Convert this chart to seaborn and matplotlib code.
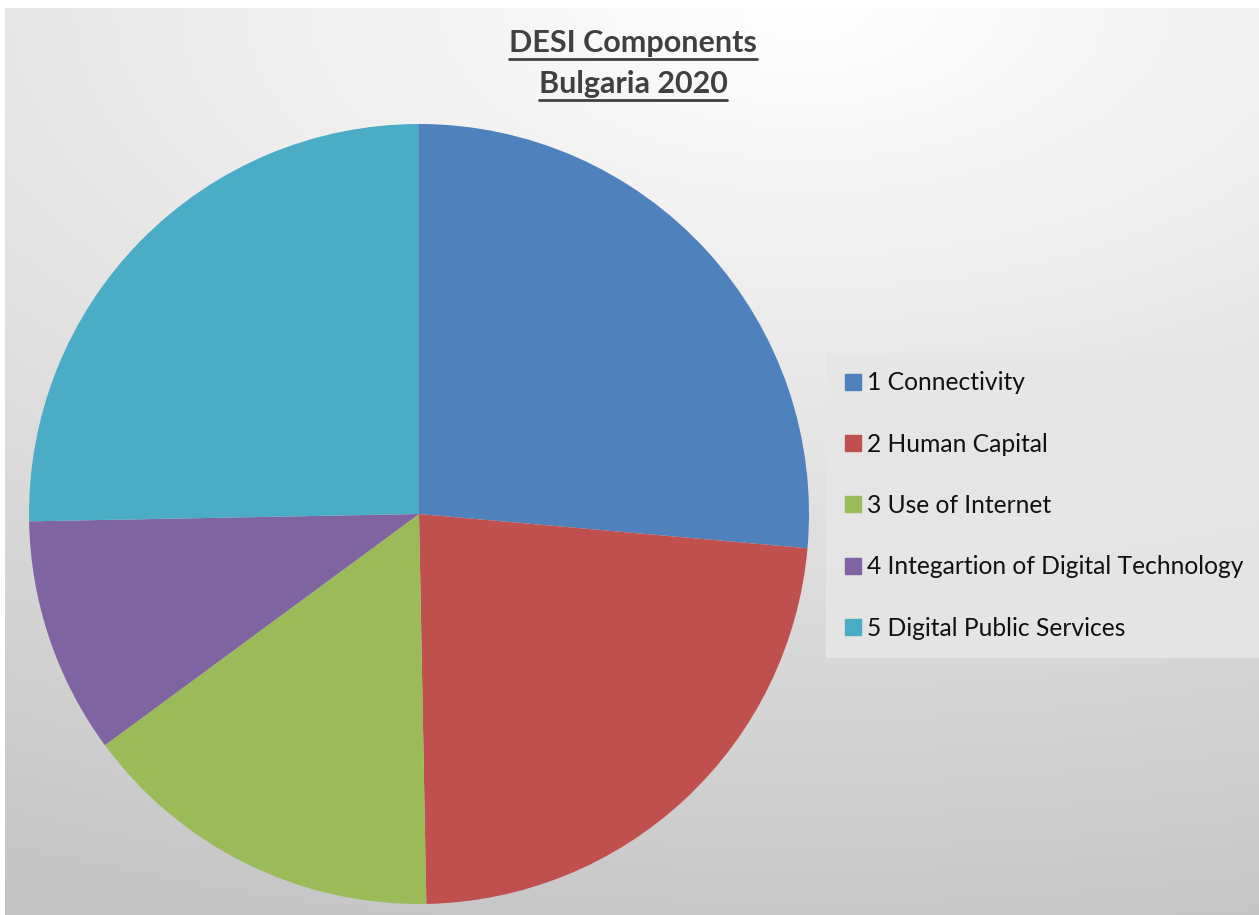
import numpy as np
import matplotlib
matplotlib.use("Agg")
import matplotlib.pyplot as plt
from matplotlib.lines import Line2D
from matplotlib.patches import Rectangle
import seaborn as sns

# ---- data ----
categories = ["1 Connectivity", "2 Human Capital", "3 Use of Internet",
              "4 Integartion of Digital Technology", "5 Digital Public Services"]
values = [26.4, 23.3, 15.2, 9.8, 25.3]
colors = ["#4F81BD", "#C0504D", "#9BBB59", "#8064A2", "#4BACC6"]
title_lines = ["DESI Components", "Bulgaria 2020"]

sns.set_theme(style="white")
plt.rcParams["font.family"] = ["Lato", "DejaVu Sans"]

W, H = 1259, 915
fig = plt.figure(figsize=(W / 100, H / 100), dpi=100)
fig.patch.set_facecolor("white")

# background gradient (chart area)
bg = fig.add_axes([5 / W, 0, (W - 5) / W, (H - 8) / H], zorder=0)
yy, xx = np.mgrid[0:H - 8, 0:W - 5]
d = np.sqrt(((xx - 800) / 1600.0) ** 2 + ((yy - 0) / 800.0) ** 2)
g = np.clip(1.0 - 0.19 * d, 0.74, 1.0)
img = np.dstack([g, g, g])
bg.imshow(img, aspect="auto", interpolation="bilinear")
bg.set_axis_off()

# pie
cx, cy, r = 419, 514, 390
ax = fig.add_axes([(cx - r) / W, (H - cy - r) / H, 2 * r / W, 2 * r / H], zorder=2)
ax.set_facecolor("none")
wedges, _ = ax.pie(values, colors=colors, startangle=90, counterclock=False,
                   radius=1.0, wedgeprops=dict(linewidth=0))
ax.set_xlim(-1, 1)
ax.set_ylim(-1, 1)
ax.set_aspect("equal")
ax.set_axis_off()

# title
fig.canvas.draw()
renderer = fig.canvas.get_renderer()
title_base = [52, 93]
for line, ty in zip(title_lines, title_base):
    t = fig.text(633 / W, 1 - ty / H, line, ha="center", va="baseline",
                 fontsize=22, fontweight="bold", color="#404040", zorder=5)
    bb = t.get_window_extent(renderer=renderer)
    uy = (H - ty - 7) / H
    fig.add_artist(Line2D([bb.x0 / W, bb.x1 / W], [uy, uy], color="#404040",
                          linewidth=2, zorder=5))

# legend box
fig.add_artist(Rectangle((826 / W, 1 - 658 / H), (W - 826) / W, (658 - 353) / H,
                         transform=fig.transFigure, facecolor="#e6e6e6",
                         edgecolor="none", alpha=0.9, zorder=4))

handles = [Line2D([0], [0], marker="s", linestyle="none", markersize=11,
                  markerfacecolor=c, markeredgecolor=c) for c in colors]
leg = fig.legend(handles, categories, loc="center left",
                 bbox_to_anchor=(843 / W, 1 - 505.5 / H),
                 frameon=False, fontsize=17.7, handlelength=0.8,
                 handletextpad=0.17, labelspacing=1.56, borderpad=0,
                 borderaxespad=0)
for txt in leg.get_texts():
    txt.set_color("#111111")
leg.set_zorder(6)

fig.savefig("out.png", dpi=100)
